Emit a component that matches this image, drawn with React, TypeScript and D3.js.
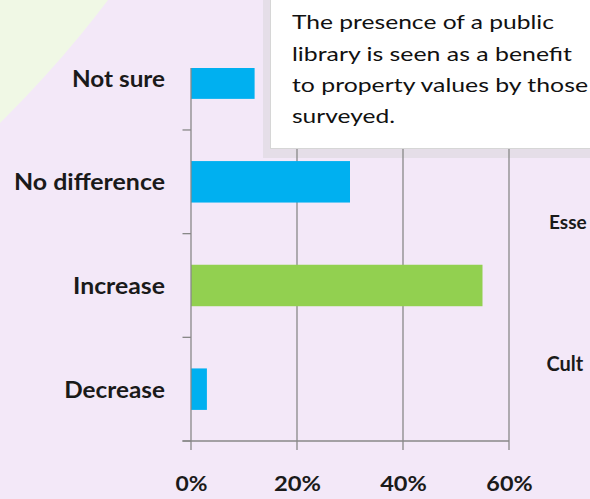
import React from "react";
import * as d3 from "d3";

const categories = ["Not sure", "No difference", "Increase", "Decrease"];
const values = [12, 30, 55, 3];
const highlighted = ["Increase"];
const xTicks = [0, 20, 40, 60];
const xTickLabels = ["0%", "20%", "40%", "60%"];
const calloutLines = [
  "The presence of a public",
  "library is seen as a benefit",
  "to property values by those",
  "surveyed.",
];
const sideLabels = ["Esse", "Cult"];

// layout (not data)
const W = 590;
const H = 499;
const catLabelWidths = [93, 151, 92, 100.7];
const tickLabelWidths = [32, 47, 46.7, 46.3];
const calloutWidths = [262, 280, 296, 103];

export default function App() {
  const x = d3.scaleLinear().domain([0, 60]).range([191, 509]);
  const y = d3
    .scaleBand<string>()
    .domain(categories)
    .range([26.3, 441])
    .paddingInner(0.6)
    .paddingOuter(0.3);
  const step = y.step();
  const top = 26.3;
  const clipTop = 68;
  const bottom = 441;
  const axisColor = "#888888";
  const font = "Lato, 'Open Sans', sans-serif";

  const arcPath = (() => {
    const cx = -800, cy = -688.4, r = 1139.5;
    const p = d3.path();
    p.arc(cx, cy, r, 0, Math.PI / 2);
    p.lineTo(-900, -900);
    p.closePath();
    return p.toString();
  })();

  return (
    <svg
      width={W}
      height={H}
      style={{ position: "absolute", left: 0, top: 0 }}
      xmlns="http://www.w3.org/2000/svg"
    >
      <defs>
        <clipPath id="plotclip">
          <rect x={0} y={clipTop} width={W} height={H - clipTop} />
        </clipPath>
      </defs>
      <rect x={0} y={0} width={W} height={H} fill="#F3E8F8" />
      <path d={arcPath} fill="#F0F8E5" />

      {/* callout shadow */}
      <rect x={263} y={0} width={W} height={158} fill="#E5DEE8" />

      <g clipPath="url(#plotclip)">
        {xTicks.filter((t) => t > 0).map((t) => (
          <line key={"g" + t} x1={x(t)} x2={x(t)} y1={top} y2={bottom} stroke={axisColor} strokeWidth={1.3} />
        ))}
        {categories.map((c, i) => (
          <rect
            key={c}
            x={x(0)}
            y={y(c)!}
            width={x(values[i]) - x(0)}
            height={y.bandwidth()}
            fill={highlighted.includes(c) ? "#92D050" : "#00B0F0"}
          />
        ))}
        <line x1={x(0)} x2={x(0)} y1={top} y2={bottom} stroke={axisColor} strokeWidth={1.3} />
      </g>
      {categories.map((c, i) => (
        <line key={"yt" + c} x1={182.5} x2={x(0)} y1={top + step * (i + 1)} y2={top + step * (i + 1)} stroke={axisColor} strokeWidth={1.3} />
      ))}
      <line x1={182.5} x2={x(60)} y1={bottom} y2={bottom} stroke={axisColor} strokeWidth={1.3} />
      {xTicks.map((t) => (
        <line key={"xt" + t} x1={x(t)} x2={x(t)} y1={bottom} y2={bottom + 9} stroke={axisColor} strokeWidth={1.3} />
      ))}
      {xTicks.map((t, i) => (
        <text
          key={"xl" + t}
          x={x(t) + 0.5 - tickLabelWidths[i] / 2}
          y={490.5}
          fontFamily={font}
          fontWeight="bold"
          fontSize={21}
          fill="#1a1a1a"
          textLength={tickLabelWidths[i]}
          lengthAdjust="spacingAndGlyphs"
        >
          {xTickLabels[i]}
        </text>
      ))}
      {categories.map((c, i) => (
        <text
          key={"cl" + c}
          x={165 - catLabelWidths[i]}
          y={y(c)! + y.bandwidth() / 2 + 8.5}
          fontFamily={font}
          fontWeight="bold"
          fontSize={22}
          fill="#1a1a1a"
          textLength={catLabelWidths[i]}
          lengthAdjust="spacingAndGlyphs"
        >
          {c}
        </text>
      ))}

      <text x={549} y={229.3} fontFamily={font} fontWeight="bold" fontSize={19} fill="#1a1a1a">
        {sideLabels[0]}
      </text>
      <text x={546.5} y={370.7} fontFamily={font} fontWeight="bold" fontSize={20} fill="#1a1a1a">
        {sideLabels[1]}
      </text>

      <rect x={270.5} y={-2} width={W} height={150.5} fill="#FFFFFF" stroke="#D6D6D6" strokeWidth={1} />
      {calloutLines.map((l, i) => (
        <text
          key={"co" + i}
          x={292}
          y={29.3 + i * 31.3}
          fontFamily={font}
          fontSize={20}
          fill="#111111"
          textLength={calloutWidths[i]}
          lengthAdjust="spacingAndGlyphs"
        >
          {l}
        </text>
      ))}
    </svg>
  );
}
